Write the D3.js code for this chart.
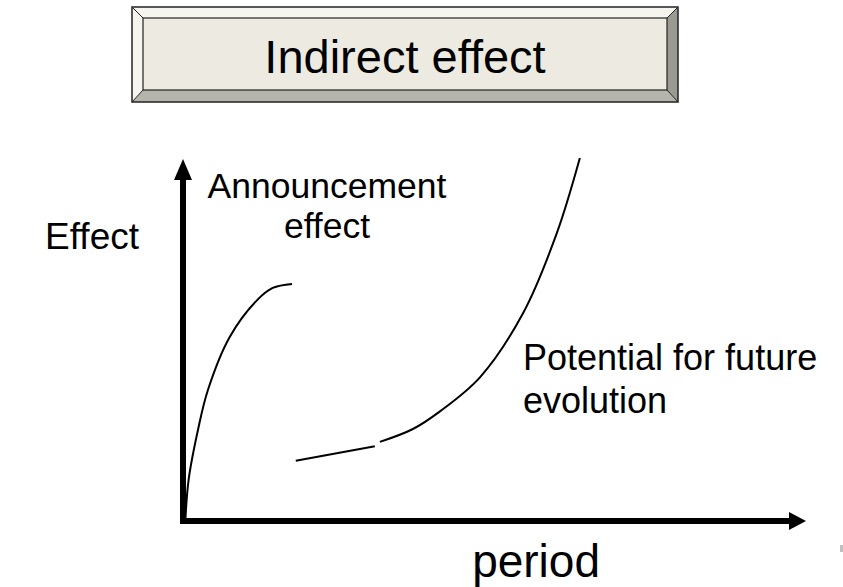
<!DOCTYPE html>
<html>
<head>
<meta charset="utf-8">
<script src="https://cdn.jsdelivr.net/npm/d3@7"></script>
<style>
  body { margin: 0; background: #fff; }
  text { font-family: "Liberation Sans", Arial, sans-serif; fill: #000; }
</style>
</head>
<body>
<div id="chart"></div>
<script>
// Data for the sketch (period vs effect, arbitrary units 0-100)
const announcementPeriod = [0.4, 0.9, 2.4, 4.0, 7.5, 11.9, 14.4, 17.5];
const announcementEffect = [0.8, 11.5, 25.4, 36.6, 51.4, 61.7, 65.1, 66.2];

const earlyPeriod = [18.1, 30.8];
const earlyEffect = [16.8, 20.9];

const futurePeriod = [31.6, 36.9, 41.3, 47.7, 54.6, 60.0, 63.7];
const futureEffect = [22.1, 25.7, 30.7, 40.2, 58.1, 80.4, 101.4];

const titleText = "Indirect effect";
const xLabel = "period";
const yLabel = "Effect";
const announceLabel = ["Announcement", "effect"];
const futureLabel = ["Potential for future", "evolution"];

// Dimensions
const width = 843, height = 587;

const svg = d3.select("#chart")
    .append("svg")
    .attr("width", width)
    .attr("height", height);

// Scales
const xScale = d3.scaleLinear().domain([0, 100]).range([183, 806]);
const yScale = d3.scaleLinear().domain([0, 100]).range([521, 163]);

// Title box with bevel
const box = { x0: 132, y0: 7, x1: 678, y1: 102, b: 11 };
const g = svg.append("g").attr("class", "title");
const pts = (arr) => arr.map(p => p.join(",")).join(" ");
const ix0 = box.x0 + box.b, iy0 = box.y0 + box.b, ix1 = box.x1 - box.b, iy1 = box.y1 - 12;
g.append("polygon") // top
    .attr("points", pts([[box.x0, box.y0], [box.x1, box.y0], [ix1, iy0], [ix0, iy0]]))
    .attr("fill", "#f5f4ee");
g.append("polygon") // left
    .attr("points", pts([[box.x0, box.y0], [ix0, iy0], [ix0, iy1], [box.x0, box.y1]]))
    .attr("fill", "#f5f4ee");
g.append("polygon") // bottom
    .attr("points", pts([[box.x0, box.y1], [ix0, iy1], [ix1, iy1], [box.x1, box.y1]]))
    .attr("fill", "#b5b5ad");
g.append("polygon") // right
    .attr("points", pts([[box.x1, box.y0], [box.x1, box.y1], [ix1, iy1], [ix1, iy0]]))
    .attr("fill", "#9a9a92");
g.append("rect")
    .attr("x", ix0).attr("y", iy0)
    .attr("width", ix1 - ix0).attr("height", iy1 - iy0)
    .attr("fill", "#edebe1");
g.append("rect")
    .attr("x", box.x0).attr("y", box.y0)
    .attr("width", box.x1 - box.x0).attr("height", box.y1 - box.y0)
    .attr("fill", "none").attr("stroke", "#222").attr("stroke-width", 1.5);
g.append("rect")
    .attr("x", ix0).attr("y", iy0)
    .attr("width", ix1 - ix0).attr("height", iy1 - iy0)
    .attr("fill", "none").attr("stroke", "#222").attr("stroke-width", 1.2);
[[box.x0, box.y0, ix0, iy0], [box.x1, box.y0, ix1, iy0],
 [box.x0, box.y1, ix0, iy1], [box.x1, box.y1, ix1, iy1]].forEach(d => {
    g.append("line")
        .attr("x1", d[0]).attr("y1", d[1]).attr("x2", d[2]).attr("y2", d[3])
        .attr("stroke", "#222").attr("stroke-width", 1);
});
g.append("text")
    .attr("x", (ix0 + ix1) / 2)
    .attr("y", 73)
    .attr("text-anchor", "middle")
    .style("font-size", "47px")
    .text(titleText);

// Axes (thick lines with arrow heads)
const axisW = 6;
const ox = xScale(0), oy = yScale(0);
svg.append("line")
    .attr("x1", ox).attr("y1", oy + axisW / 2)
    .attr("x2", ox).attr("y2", yScale(100) + 14)
    .attr("stroke", "#000").attr("stroke-width", axisW);
svg.append("polygon")
    .attr("points", pts([[ox - 9, yScale(100) + 17], [ox, yScale(100) - 4], [ox + 9, yScale(100) + 17]]))
    .attr("fill", "#000");
svg.append("line")
    .attr("x1", ox - axisW / 2).attr("y1", oy)
    .attr("x2", xScale(100) - 14).attr("y2", oy)
    .attr("stroke", "#000").attr("stroke-width", axisW);
svg.append("polygon")
    .attr("points", pts([[xScale(100) - 17, oy - 9], [xScale(100), oy], [xScale(100) - 17, oy + 9]]))
    .attr("fill", "#000");

// Curves
const line = d3.line()
    .x(d => xScale(d[0]))
    .y(d => yScale(d[1]))
    .curve(d3.curveCatmullRom.alpha(0.5));

const curves = [
    d3.zip(announcementPeriod, announcementEffect),
    d3.zip(earlyPeriod, earlyEffect),
    d3.zip(futurePeriod, futureEffect)
];

svg.selectAll(".curve")
    .data(curves)
    .enter()
    .append("path")
    .attr("class", "curve")
    .attr("d", line)
    .attr("fill", "none")
    .attr("stroke", "#000")
    .attr("stroke-width", 2);

// Labels
svg.append("text")
    .attr("x", 139).attr("y", 249)
    .attr("text-anchor", "end")
    .style("font-size", "37px")
    .text(yLabel);

svg.append("text")
    .attr("x", 600).attr("y", 577)
    .attr("text-anchor", "end")
    .style("font-size", "46px")
    .text(xLabel);

const ann = svg.append("text")
    .attr("text-anchor", "middle")
    .style("font-size", "35.5px");
announceLabel.forEach((t, i) => {
    ann.append("tspan").attr("x", 327).attr("y", 198 + i * 40).text(t);
});

const fut = svg.append("text")
    .style("font-size", "36px");
futureLabel.forEach((t, i) => {
    fut.append("tspan").attr("x", 523).attr("y", 370 + i * 43).text(t);
});

// small grey mark at the lower right edge
svg.append("rect")
    .attr("x", 840).attr("y", 545)
    .attr("width", 3).attr("height", 7)
    .attr("fill", "#c0c0c0");
</script>
</body>
</html>
